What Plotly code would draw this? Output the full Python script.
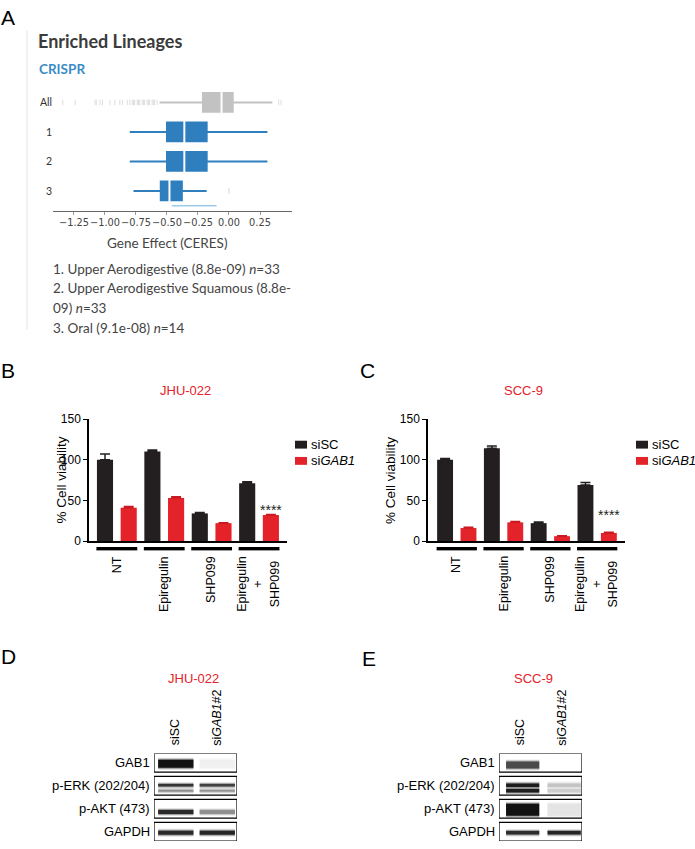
import plotly.graph_objects as go

# ---------------- DATA ----------------
# Panel A: enriched lineages (gene effect, CERES)
lineages = ["All", "1", "2", "3"]
box_q1 = [-0.21, -0.50, -0.50, -0.55]
box_median = [-0.06, -0.36, -0.36, -0.48]
box_q3 = [0.03, -0.18, -0.18, -0.38]
box_low = [-0.56, -0.80, -0.80, -0.77]
box_high = [0.35, 0.31, 0.31, -0.18]
all_outliers = [-1.34, -1.24, -1.08, -1.07, -1.04, -1.02, -0.96, -0.92, -0.88,
                -0.86, -0.82, -0.80, -0.78, -0.77, -0.76, -0.74, -0.73, -0.72,
                -0.70, -0.69, -0.68, -0.66, -0.65, -0.64, -0.62, -0.61, -0.60,
                -0.58, 0.40, 0.42]
oral_outliers = [0.0]
oral_rug = [-0.46, -0.10]
a_ticks = [-1.25, -1.00, -0.75, -0.50, -0.25, 0.00, 0.25]
lineage_notes = ["1. Upper Aerodigestive (8.8e-09) <i>n</i>=33",
                 "2. Upper Aerodigestive Squamous (8.8e-",
                 "09) <i>n</i>=33",
                 "3. Oral (9.1e-08) <i>n</i>=14"]

# Panels B, C: % cell viability
treatments = ["NT", "Epiregulin", "SHP099", "Epiregulin<br>+<br>SHP099"]
series_names = ["siSC", "si<i>GAB1</i>"]
jhu_sisc = [100, 110, 34, 71]
jhu_sisc_err = [7, 2, 1, 2]
jhu_sigab1 = [41, 53, 22, 32]
jhu_sigab1_err = [1.5, 1.5, 0.5, 0.7]
scc_sisc = [100, 114, 22, 69]
scc_sisc_err = [1.5, 3, 1.5, 3]
scc_sigab1 = [16, 23, 6, 10]
scc_sigab1_err = [1, 1, 0.5, 0.8]
y_ticks = [0, 50, 100, 150]

# Panels D, E: western blots (relative band intensity per lane)
blot_rows = ["GAB1", "p-ERK (202/204)", "p-AKT (473)", "GAPDH"]
blot_lanes = ["siSC", "si<i>GAB1</i>#2"]
jhu_bands = [[[1.0, 0.025]], [[0.85, 0.8], [0.45, 0.42]], [[0.9, 0.45]], [[0.9, 0.92]]]
scc_bands = [[[0.75, 0.0]], [[0.95, 0.22], [0.95, 0.18]], [[1.0, 0.08]], [[0.88, 0.92]]]

# ---------------- STYLE ----------------
W, H = 695, 849
BLUE = "#2f7fbf"
GRAY = "#c2c2c2"
BLACK = "#231f20"
RED = "#e4222a"
ARIAL = "Arial, Liberation Sans, sans-serif"
LATO = "Lato, sans-serif"
DEJAVU = "DejaVu Sans, sans-serif"

# band geometry: (offset within row, thickness px)
jhu_geom = [[(0.45, 8)], [(0.39, 2.5), (0.62, 2)], [(0.55, 4)], [(0.45, 4)]]
scc_geom = [[(0.5, 7)], [(0.38, 3.5), (0.62, 3.5)], [(0.45, 12)], [(0.45, 3.5)]]


def px(x):
    return x / W


def py(y):
    return 1 - y / H


fig = go.Figure()
annotations = []
shapes = []

# ---------------- PANEL A ----------------
for i, name in enumerate(lineages):
    col = GRAY if i == 0 else BLUE
    fig.add_trace(go.Box(
        y=[i], q1=[box_q1[i]], median=[box_median[i]], q3=[box_q3[i]],
        lowerfence=[box_low[i]], upperfence=[box_high[i]], orientation="h",
        fillcolor=col, line=dict(color=col, width=2), whiskerwidth=0,
        width=0.63, boxpoints=False, xaxis="x", yaxis="y",
        showlegend=False, hoverinfo="skip"))
fig.add_trace(go.Scatter(
    x=box_median, y=list(range(len(lineages))), mode="markers",
    marker=dict(symbol="line-ns", size=19, line=dict(color="white", width=2)),
    xaxis="x", yaxis="y", showlegend=False, hoverinfo="skip"))
fig.add_trace(go.Scatter(
    x=all_outliers, y=[0] * len(all_outliers), mode="markers",
    marker=dict(symbol="line-ns", size=4, line=dict(color="#dedede", width=1)),
    xaxis="x", yaxis="y", showlegend=False, hoverinfo="skip"))
fig.add_trace(go.Scatter(
    x=oral_outliers, y=[3] * len(oral_outliers), mode="markers",
    marker=dict(symbol="line-ns", size=4, line=dict(color="#c9d7e6", width=1)),
    xaxis="x", yaxis="y", showlegend=False, hoverinfo="skip"))
fig.add_trace(go.Scatter(
    x=oral_rug, y=[3 + 0.5] * len(oral_rug), mode="lines",
    line=dict(color="#9ccbeb", width=1.5),
    xaxis="x", yaxis="y", showlegend=False, hoverinfo="skip"))

# ---------------- PANELS B, C ----------------
def bar_panel(xa, ya, sc, sc_err, gab, gab_err):
    xs = [2 * g for g in range(len(treatments))]
    xg = [2 * g + 1 for g in range(len(treatments))]
    fig.add_trace(go.Bar(
        x=xs, y=sc, width=0.68, marker=dict(color=BLACK, line=dict(width=0)),
        error_y=dict(type="data", symmetric=False, array=sc_err,
                     arrayminus=[0] * len(sc), color=BLACK, thickness=1.5, width=5),
        xaxis=xa, yaxis=ya, showlegend=False, hoverinfo="skip"))
    fig.add_trace(go.Bar(
        x=xg, y=gab, width=0.68, marker=dict(color=RED, line=dict(width=0)),
        error_y=dict(type="data", symmetric=False, array=gab_err,
                     arrayminus=[0] * len(gab), color="#c81a20", thickness=1.5, width=5),
        xaxis=xa, yaxis=ya, showlegend=False, hoverinfo="skip"))


bar_panel("x2", "y2", jhu_sisc, jhu_sisc_err, jhu_sigab1, jhu_sigab1_err)
bar_panel("x3", "y3", scc_sisc, scc_sisc_err, scc_sigab1, scc_sigab1_err)

for xref in ("x2", "x3"):
    for g, lab in enumerate(treatments):
        shapes.append(dict(type="line", xref=xref, yref="paper",
                           x0=2 * g - 0.36, x1=2 * g + 1 + 0.36,
                           y0=py(552), y1=py(552),
                           line=dict(color="#9a9a9a", width=2)))
        shapes.append(dict(type="line", xref=xref, yref="paper",
                           x0=2 * g - 0.36, x1=2 * g + 1 + 0.36,
                           y0=py(550.5), y1=py(550.5),
                           line=dict(color="black", width=3)))
        annotations.append(dict(xref=xref, yref="paper", x=2 * g + 0.5, y=py(556),
                                text=lab, textangle=-90, showarrow=False,
                                xanchor="center", yanchor="top", align="center",
                                font=dict(family=ARIAL, size=12.5, color="black")))

# significance stars
annotations.append(dict(xref="x2", yref="y2", x=7, y=38.5, text="****", showarrow=False,
                        font=dict(family=ARIAL, size=14, color=BLACK)))
annotations.append(dict(xref="x3", yref="y3", x=7, y=31.5, text="****", showarrow=False,
                        font=dict(family=ARIAL, size=14, color=BLACK)))

# legends for B and C
for lx in (295, 636):
    for k, (nm, col) in enumerate(zip(series_names, [BLACK, RED])):
        top = 441 + 16.5 * k
        shapes.append(dict(type="rect", xref="paper", yref="paper",
                           x0=px(lx), x1=px(lx + 12), y0=py(top + 8), y1=py(top),
                           fillcolor=col, line=dict(width=0)))
        annotations.append(dict(xref="paper", yref="paper", x=px(lx + 14), y=py(top + 4),
                                text=nm, showarrow=False, xanchor="left", yanchor="middle",
                                font=dict(family=ARIAL, size=13, color="black")))

# y titles for B, C
for tx in (52, 390):
    annotations.append(dict(xref="paper", yref="paper", x=px(tx), y=py(481),
                            text="% Cell viability", textangle=-90, showarrow=False,
                            font=dict(family=ARIAL, size=13.5, color="black")))

# ---------------- PANELS D, E ----------------
def band_gray(I):
    v = int(round(246 - 228 * I))
    return f"rgb({v},{v},{v})"


def blot_panel(xa, ya, bands, geom, lane_lo, lane_hi):
    for r, row in enumerate(bands):
        shapes.append(dict(type="rect", xref=xa, yref=ya, x0=0, x1=len(blot_lanes),
                           y0=r, y1=r + 0.815, line=dict(color="black", width=1.2),
                           layer="above"))
        for b, inten in enumerate(row):
            off, thick = geom[r][b]
            for l, I in enumerate(inten):
                if I <= 0.01:
                    continue
                xx = [l + lane_lo, l + lane_hi]
                yy = [r + off, r + off]
                for extra, op, f in ((4, 0.25, 0.5), (2, 0.5, 0.75), (0, 1.0, 1.0)):
                    fig.add_trace(go.Scatter(
                        x=xx, y=yy, mode="lines",
                        line=dict(color=band_gray(I * f), width=thick + extra),
                        opacity=op, xaxis=xa, yaxis=ya, showlegend=False,
                        hoverinfo="skip"))
    for l, lab in enumerate(blot_lanes):
        annotations.append(dict(xref=xa, yref="paper", x=l + 0.5, y=py(753),
                                text=lab, textangle=-90, showarrow=False,
                                xanchor="center", yanchor="bottom",
                                font=dict(family=ARIAL, size=12.5, color="black")))


blot_panel("x4", "y4", jhu_bands, jhu_geom, 0.1, 0.95)
blot_panel("x5", "y5", scc_bands, scc_geom, 0.17, 0.97)

for lx, ya in ((152, "y4"), (497, "y5")):
    for r, lab in enumerate(blot_rows):
        annotations.append(dict(xref="paper", yref=ya, x=px(lx), y=r + 0.41, text=lab,
                                showarrow=False, xanchor="right", yanchor="middle",
                                font=dict(family=ARIAL, size=13, color="black")))

# ---------------- TEXT ----------------
for letter, (lx, ly) in {"A": (8, 11), "B": (8, 370), "C": (367, 370),
                         "D": (8, 660), "E": (369, 662)}.items():
    annotations.append(dict(xref="paper", yref="paper", x=px(lx), y=py(ly), text=letter,
                            showarrow=False, xanchor="center", yanchor="middle",
                            font=dict(family=ARIAL, size=21, color="black")))

for t, (tx, ty) in [("JHU-022", (185, 390)), ("SCC-9", (523, 390)),
                    ("JHU-022", (193, 683)), ("SCC-9", (533, 683))]:
    annotations.append(dict(xref="paper", yref="paper", x=px(tx), y=py(ty), text=t,
                            showarrow=False, xanchor="center", yanchor="middle",
                            font=dict(family=ARIAL, size=13, color=RED)))

annotations.append(dict(xref="paper", yref="paper", x=px(36), y=py(35),
                        text="<b>Enriched Lineages</b>", showarrow=False,
                        xanchor="left", yanchor="middle",
                        font=dict(family=LATO, size=18, color="#3b3b3b")))
annotations.append(dict(xref="paper", yref="paper", x=px(37), y=py(63),
                        text="<b>CRISPR</b>", showarrow=False,
                        xanchor="left", yanchor="middle",
                        font=dict(family=LATO, size=13.5, color="#3a8bc6")))
annotations.append(dict(xref="paper", yref="paper", x=px(167), y=py(240),
                        text="Gene Effect (CERES)", showarrow=False,
                        xanchor="center", yanchor="middle",
                        font=dict(family=LATO, size=13.5, color="#444")))
for k, note in enumerate(lineage_notes):
    annotations.append(dict(xref="paper", yref="paper", x=px(51), y=py(266 + 20 * k),
                            text=note, showarrow=False, xanchor="left", yanchor="middle",
                            font=dict(family=LATO, size=13.5, color="#444")))

shapes.append(dict(type="line", xref="paper", yref="paper", x0=px(27), x1=px(27),
                   y0=py(24), y1=py(328), line=dict(color="#e2e2e2", width=1)))

# ---------------- LAYOUT ----------------
tick_txt = [("\u2212" if v < 0 else "") + f"{abs(v):.2f}" for v in a_ticks]
layout = dict(
    width=W, height=H, margin=dict(l=0, r=0, t=0, b=0),
    paper_bgcolor="white", plot_bgcolor="rgba(0,0,0,0)",
    barmode="overlay", showlegend=False,
    xaxis=dict(domain=[px(53), px(292)], range=[-1.419, 0.508], anchor="y",
               showline=True, linecolor="#666", linewidth=1, showgrid=False,
               zeroline=False, ticks="outside", ticklen=3, tickcolor="#999",
               tickvals=a_ticks, ticktext=tick_txt, tickangle=0,
               tickfont=dict(family=DEJAVU, size=9.8, color="#444")),
    yaxis=dict(domain=[py(207), py(82)], range=[3.667, -0.5], anchor="x",
               showline=False, showgrid=False, zeroline=False, ticks="",
               tickvals=list(range(len(lineages))), ticktext=lineages,
               tickfont=dict(family=LATO, size=10.5, color="#333")),
)
for n, (x0, x1, rng) in {2: (89, 287, [-0.675, 7.68]), 3: (428, 625, [-0.73, 7.69])}.items():
    layout[f"xaxis{n}"] = dict(domain=[px(x0), px(x1)], range=rng, anchor=f"y{n}",
                               showline=True, linecolor="black", linewidth=1.5,
                               showgrid=False, zeroline=False, showticklabels=False,
                               ticks="")
    layout[f"yaxis{n}"] = dict(domain=[py(543), py(419)], range=[0, 150], anchor=f"x{n}",
                               showline=True, linecolor="black", linewidth=1.5,
                               showgrid=False, zeroline=False, ticks="outside",
                               ticklen=4, tickwidth=1.2, tickcolor="black",
                               tickvals=y_ticks,
                               tickfont=dict(family=ARIAL, size=12, color="black"))
for n, (x0, x1) in {4: (154, 237), 5: (499, 582)}.items():
    layout[f"xaxis{n}"] = dict(domain=[px(x0), px(x1)], range=[0, len(blot_lanes)],
                               anchor=f"y{n}", visible=False)
    layout[f"yaxis{n}"] = dict(domain=[py(848), py(759)], range=[3.815, 0],
                               anchor=f"x{n}", visible=False)
layout["annotations"] = annotations
layout["shapes"] = shapes
fig.update_layout(**layout)

fig.write_html("out.html", config={"displayModeBar": False},
               post_script="document.body.style.margin='0';document.body.style.padding='0';")
